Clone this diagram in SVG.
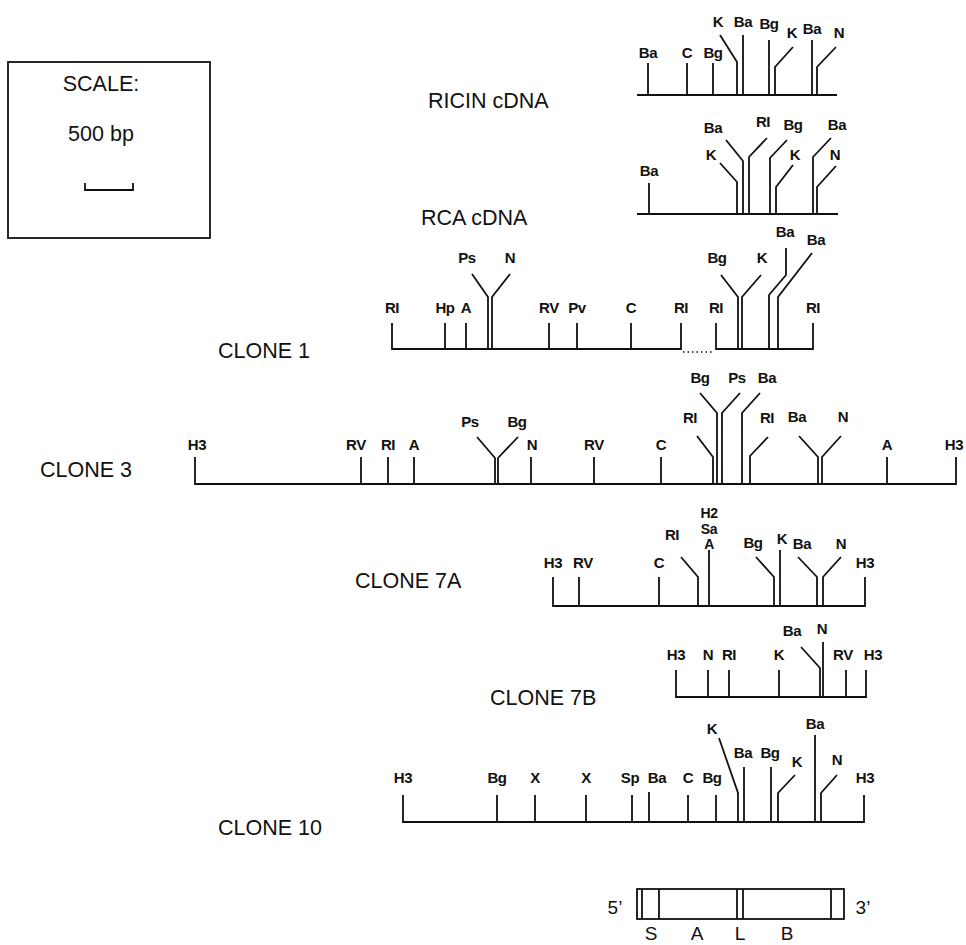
<svg xmlns="http://www.w3.org/2000/svg" width="966" height="945" viewBox="0 0 966 945">
<style>
.ln{fill:none;stroke:#111;stroke-width:1.8;stroke-linejoin:miter;stroke-linecap:butt}
.dot{fill:none;stroke:#111;stroke-width:1.5;stroke-dasharray:1.5 3}
.s{font-family:"Liberation Sans",Arial,sans-serif;font-size:15px;font-weight:bold;letter-spacing:-0.4px;fill:#111;text-anchor:middle}
.t{font-family:"Liberation Sans",Arial,sans-serif;font-size:21.5px;fill:#111}
.u{font-family:"Liberation Sans",Arial,sans-serif;font-size:19px;fill:#111;text-anchor:middle}
</style>
<rect width="966" height="945" fill="#fff"/>

<g id="scale">
<rect x="8" y="62" width="202" height="176" class="ln"/>
<text class="t" x="101" y="91" text-anchor="middle">SCALE:</text>
<text class="t" x="101" y="141" text-anchor="middle">500 bp</text>
<path class="ln" d="M85,183 V190 H133 V183"/>
</g>

<g id="ricin">
<text class="t" x="428" y="108">RICIN cDNA</text>
<path class="ln" d="M637,95 H837 M648,95 V63 M687,95 V63 M713,95 V63 M737,95 V62 L720,35 M743,95 V35 M769,95 V40 M775,95 V67 L793,47 M812,95 V40 M817,95 V67 L836,47"/>
<text class="s" x="648" y="58">Ba</text><text class="s" x="687" y="58">C</text><text class="s" x="713" y="58">Bg</text>
<text class="s" x="718" y="27">K</text><text class="s" x="743" y="27">Ba</text><text class="s" x="769" y="29">Bg</text>
<text class="s" x="792" y="38">K</text><text class="s" x="812" y="34">Ba</text><text class="s" x="839" y="38">N</text>
</g>

<g id="rca">
<text class="t" x="421" y="225">RCA cDNA</text>
<path class="ln" d="M637,214 H838 M649,214 V183 M737,214 V182 L720,163 M743,214 V161 L726,140 M749,214 V157 L767,138 M770,214 V158 L787,140 M776,214 V187 L793,165 M813,214 V157 L831,138 M817,214 V187 L836,166"/>
<text class="s" x="649" y="176">Ba</text><text class="s" x="711" y="160">K</text><text class="s" x="713" y="133">Ba</text>
<text class="s" x="763" y="127">RI</text><text class="s" x="793" y="130">Bg</text><text class="s" x="795" y="160">K</text>
<text class="s" x="837" y="130">Ba</text><text class="s" x="835" y="160">N</text>
</g>

<g id="clone1">
<text class="t" x="218" y="358">CLONE 1</text>
<path class="ln" d="M392,323 V349 H681 V323 M716,323 V349 H813 V323 M445,349 V323 M466,349 V323 M488,349 V297 L472,274 M492,349 V297 L510,274 M549,349 V323 M577,349 V323 M631,349 V323 M738,349 V297 L721,275 M742,349 V297 L761,275 M769,349 V295 L786,275 V248 M778,349 V297 L812,253"/>
<path class="dot" d="M683,352 H714"/>
<text class="s" x="392" y="313">RI</text><text class="s" x="445" y="313">Hp</text><text class="s" x="466" y="313">A</text>
<text class="s" x="549" y="313">RV</text><text class="s" x="577" y="313">Pv</text><text class="s" x="631" y="313">C</text>
<text class="s" x="681" y="313">RI</text><text class="s" x="716" y="313">RI</text><text class="s" x="813" y="313">RI</text>
<text class="s" x="467" y="263">Ps</text><text class="s" x="510" y="263">N</text>
<text class="s" x="717" y="263">Bg</text><text class="s" x="762" y="263">K</text>
<text class="s" x="785" y="237">Ba</text><text class="s" x="816" y="245">Ba</text>
</g>

<g id="clone3">
<text class="t" x="40" y="477">CLONE 3</text>
<path class="ln" d="M195,457 V484 H956 V457 M361,484 V457 M388,484 V457 M414,484 V457 M495,484 V458 L477,437 M498,484 V458 L518,437 M531,484 V457 M594,484 V457 M661,484 V457 M713,484 V457 L697,436 M717,484 V413 L700,393 M722,484 V413 L740,393 M742,484 V413 L760,393 M750,484 V456 L768,437 M818,484 V457 L799,436 M822,484 V457 L841,436 M887,484 V457"/>
<text class="s" x="197" y="450">H3</text><text class="s" x="356" y="450">RV</text><text class="s" x="388" y="450">RI</text>
<text class="s" x="414" y="450">A</text><text class="s" x="532" y="450">N</text><text class="s" x="594" y="450">RV</text>
<text class="s" x="661" y="450">C</text><text class="s" x="887" y="450">A</text><text class="s" x="954" y="450">H3</text>
<text class="s" x="470" y="427">Ps</text><text class="s" x="517" y="427">Bg</text>
<text class="s" x="690" y="423">RI</text><text class="s" x="767" y="423">RI</text>
<text class="s" x="700" y="383">Bg</text><text class="s" x="737" y="383">Ps</text><text class="s" x="767" y="383">Ba</text>
<text class="s" x="797" y="422">Ba</text><text class="s" x="843" y="422">N</text>
</g>

<g id="clone7a">
<text class="t" x="355" y="588">CLONE 7A</text>
<path class="ln" d="M553,577 V606 H865 V577 M579,606 V577 M659,606 V577 M698,606 V577 L681,557 M709,606 V550 M774,606 V577 L756,557 M780,606 V550 M817,606 V577 L798,557 M823,606 V577 L841,557"/>
<text class="s" x="553" y="568">H3</text><text class="s" x="583" y="568">RV</text><text class="s" x="659" y="568">C</text>
<text class="s" x="672" y="540">RI</text>
<text class="s" x="709" y="518" style="font-size:14px">H2</text><text class="s" x="709" y="534" style="font-size:14px">Sa</text><text class="s" x="709" y="549" style="font-size:14px">A</text>
<text class="s" x="753" y="548">Bg</text><text class="s" x="782" y="544">K</text><text class="s" x="802" y="549">Ba</text>
<text class="s" x="841" y="549">N</text><text class="s" x="865" y="568">H3</text>
</g>

<g id="clone7b">
<text class="t" x="490" y="705">CLONE 7B</text>
<path class="ln" d="M676,670 V697 H866 V670 M708,697 V670 M729,697 V670 M779,697 V670 M820,697 V668 L801,647 M823,697 V642 M846,697 V670"/>
<text class="s" x="676" y="660">H3</text><text class="s" x="708" y="660">N</text><text class="s" x="729" y="660">RI</text>
<text class="s" x="779" y="660">K</text><text class="s" x="843" y="660">RV</text><text class="s" x="873" y="660">H3</text>
<text class="s" x="792" y="636">Ba</text><text class="s" x="822" y="634">N</text>
</g>

<g id="clone10">
<text class="t" x="218" y="835">CLONE 10</text>
<path class="ln" d="M403,795 V822 H864 V795 M497,822 V795 M535,822 V795 M586,822 V795 M632,822 V795 M649,822 V792 M688,822 V795 M716,822 V795 M738,822 V793 L719,738 M744,822 V767 M771,822 V767 M778,822 V793 L795,775 M815,822 V735 M821,822 V793 L837,775"/>
<text class="s" x="403" y="783">H3</text><text class="s" x="497" y="783">Bg</text><text class="s" x="535" y="783">X</text>
<text class="s" x="586" y="783">X</text><text class="s" x="630" y="783">Sp</text><text class="s" x="657" y="783">Ba</text>
<text class="s" x="688" y="783">C</text><text class="s" x="712" y="783">Bg</text><text class="s" x="865" y="783">H3</text>
<text class="s" x="712" y="734">K</text><text class="s" x="743" y="758">Ba</text><text class="s" x="770" y="758">Bg</text>
<text class="s" x="797" y="767">K</text><text class="s" x="815" y="729">Ba</text><text class="s" x="837" y="765">N</text>
</g>

<g id="precursor">
<rect x="637" y="889" width="207" height="30" class="ln"/>
<path class="ln" d="M642,889 V919 M659,889 V919 M737,889 V919 M743,889 V919 M831,889 V919"/>
<text class="u" x="615" y="914">5’</text><text class="u" x="863" y="914">3’</text>
<text class="u" x="651" y="940">S</text><text class="u" x="697" y="940">A</text>
<text class="u" x="740" y="940">L</text><text class="u" x="787" y="940">B</text>
</g>
</svg>
